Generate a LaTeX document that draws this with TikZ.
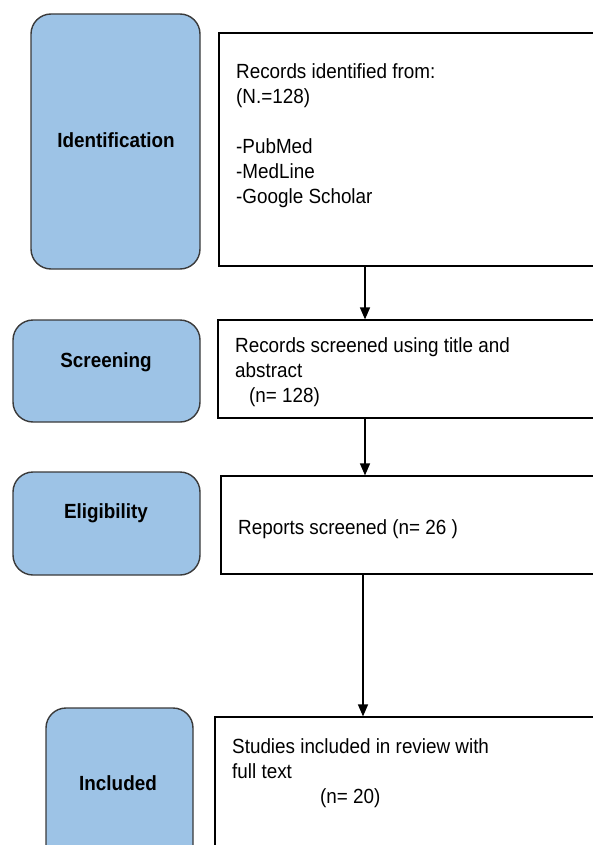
\documentclass[tikz,border=0pt]{standalone}
\usepackage{fontspec}
\setmainfont{Liberation Sans}[FakeStretch=0.92]
\usetikzlibrary{arrows.meta}
\definecolor{phasefill}{HTML}{9DC3E6}
\definecolor{phaseedge}{HTML}{3A3A3A}
\begin{document}
\begin{tikzpicture}[x=1pt,y=-1pt,
  phase/.style={draw=phaseedge,line width=1.4pt,fill=phasefill,rounded corners=20pt,inner sep=0pt},
  record/.style={draw=black,line width=1.2pt,fill=white,inner sep=0pt},
  phaselabel/.style={font=\fontsize{20.5}{25}\selectfont\bfseries,anchor=base,inner sep=0pt},
  txt/.style={font=\fontsize{20.5}{25}\selectfont,align=left,anchor=base west,inner sep=0pt},
  flow/.style={line width=1.4pt,-{Triangle[length=12pt,width=10pt]}}]
\path[use as bounding box] (0,0) rectangle (593,845);
\clip (0,0) rectangle (593,845);

% phase boxes
\node[phase,minimum width=169pt,minimum height=255pt] (id) at (115.5,141.5) {};
\node[phase,minimum width=187pt,minimum height=102pt] (sc) at (106.5,371) {};
\node[phase,minimum width=187pt,minimum height=103pt] (el) at (106.5,523.5) {};
\node[phase,minimum width=147pt,minimum height=192pt] (inc) at (119.5,804) {};

\node[phaselabel] (idl) at (116,148) {Identification};
\node[phaselabel] (scl) at (106,367) {Screening};
\node[phaselabel] (ell) at (106,518) {Eligibility};
\node[phaselabel] (incl) at (118,790) {Included};

% record boxes
\node[record,minimum width=421pt,minimum height=233pt] (b1) at (429.5,149.5) {};
\node[record,minimum width=422pt,minimum height=98pt] (b2) at (429,369) {};
\node[record,minimum width=419pt,minimum height=98pt] (b3) at (430.5,525) {};
\node[record,minimum width=425pt,minimum height=183pt] (b4) at (427.5,808.5) {};

% texts (base anchor = baseline of the last line)
\node[txt] (t1) at (236,204) {Records identified from:\\(N.=128)\\[25pt]-PubMed\\-MedLine\\-Google Scholar};
\node[txt] (t2) at (235,402) {Records screened using title and\\abstract\\\hspace*{14pt}(n= 128)};
\node[txt] (t3) at (238,534) {Reports screened (n= 26 )};
\node[txt] (t4) at (232,803) {Studies included in review with\\full text\\\hspace*{88pt}(n= 20)};

% connectors
\coordinate (a1) at (365,0);
\coordinate (a3) at (363,0);
\draw[flow] (b1.south -| a1) -- (b2.north -| a1);
\draw[flow] (b2.south -| a1) -- (b3.north -| a1);
\draw[flow] (b3.south -| a3) -- (b4.north -| a3);
\end{tikzpicture}
\end{document}
